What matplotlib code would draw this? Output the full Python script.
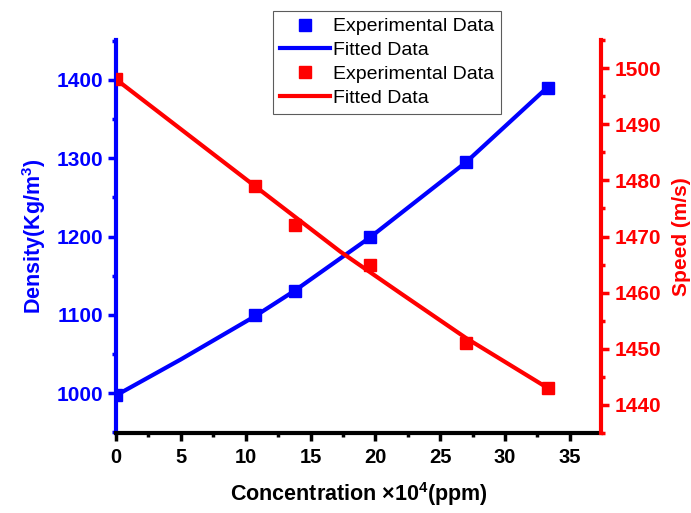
import matplotlib
matplotlib.use("Agg")
import matplotlib.pyplot as plt
from matplotlib.ticker import MultipleLocator
from matplotlib.lines import Line2D

plt.rcParams['font.family'] = ['Liberation Sans', 'DejaVu Sans']
plt.rcParams['mathtext.fontset'] = 'custom'
plt.rcParams['mathtext.rm'] = 'Liberation Sans:bold'
plt.rcParams['mathtext.bf'] = 'Liberation Sans:bold'

# Data
conc = [0, 10.7, 13.8, 19.6, 27.0, 33.3]
density_exp = [997, 1100, 1131, 1200, 1295, 1390]
density_fit_x = [0, 5, 10.7, 13.8, 19.6, 27.0, 33.3]
density_fit = [997, 1043, 1098, 1131, 1199, 1295, 1391]
speed_exp = [1498, 1479, 1472, 1465, 1451, 1443]
speed_fit_x = [0, 10.7, 17.3, 22.0, 27.0, 33.3]
speed_fit = [1498, 1479, 1467.3, 1459.8, 1451.9, 1443]

xticks = [0, 5, 10, 15, 20, 25, 30, 35]
dens_ticks = [1000, 1100, 1200, 1300, 1400]
speed_ticks = [1440, 1450, 1460, 1470, 1480, 1490, 1500]

BLUE = '#0000ff'
RED = '#ff0000'

fig = plt.figure(figsize=(6.91, 5.13), dpi=100)
ax = fig.add_axes([116/691, 1-433/513, (601-116)/691, (433-40)/513])
ax2 = ax.twinx()

lw = 3.0
ms = 8
ax.plot(density_fit_x, density_fit, color=BLUE, lw=lw, zorder=2)
ax.plot(conc, density_exp, ls='none', marker='s', ms=ms, color=BLUE, zorder=3)
ax2.plot(speed_fit_x, speed_fit, color=RED, lw=lw, zorder=2)
ax2.plot(conc, speed_exp, ls='none', marker='s', ms=ms, color=RED, zorder=3)

ax.set_xlim(0, 37.4)
ax.set_ylim(949, 1451)
ax2.set_ylim(1435, 1505)

ax.set_xticks(xticks)
ax.xaxis.set_minor_locator(MultipleLocator(2.5))
ax.set_yticks(dens_ticks)
ax.yaxis.set_minor_locator(MultipleLocator(50))
ax2.set_yticks(speed_ticks)
ax2.yaxis.set_minor_locator(MultipleLocator(5))

for a in (ax, ax2):
    a.spines['top'].set_visible(False)
ax.spines['right'].set_visible(False)
ax.spines['bottom'].set_linewidth(3)
ax.spines['bottom'].set_color('black')
ax.spines['left'].set_linewidth(3)
ax.spines['left'].set_color(BLUE)
ax2.spines['right'].set_linewidth(3)
ax2.spines['right'].set_color(RED)
ax2.spines['left'].set_visible(False)
ax2.spines['bottom'].set_visible(False)

ax.tick_params(axis='x', which='major', direction='out', length=6, width=2.5, colors='black', labelsize=14.5, pad=5)
ax.tick_params(axis='x', which='minor', direction='out', length=3, width=2.5, colors='black')
ax.tick_params(axis='y', which='major', direction='out', length=6, width=2.5, colors=BLUE, labelsize=15)
ax.tick_params(axis='y', which='minor', direction='out', length=3, width=2.5, colors=BLUE)
ax2.tick_params(axis='y', which='major', direction='out', length=6, width=2.5, colors=RED, labelsize=15)
ax2.tick_params(axis='y', which='minor', direction='out', length=3, width=2.5, colors=RED)

for lab in ax.get_xticklabels() + ax.get_yticklabels() + ax2.get_yticklabels():
    lab.set_fontweight('bold')

ax.set_xlabel('Concentration ×10$^{\\mathbf{4}}$(ppm)', fontsize=15.5, fontweight='bold', labelpad=9)
ax.set_ylabel('Density(Kg/m$^{\\mathbf{3}}$)', fontsize=15.5, fontweight='bold', color=BLUE, labelpad=6)
ax2.set_ylabel('Speed (m/s)', fontsize=15, fontweight='bold', color=RED, labelpad=8)

handles = [
    Line2D([], [], ls='none', marker='s', ms=ms, color=BLUE),
    Line2D([], [], color=BLUE, lw=lw),
    Line2D([], [], ls='none', marker='s', ms=ms, color=RED),
    Line2D([], [], color=RED, lw=lw),
]
labels = ['Experimental Data', 'Fitted Data', 'Experimental Data', 'Fitted Data']
leg = fig.legend(handles, labels, loc='upper left', bbox_to_anchor=(273/691, 1-11/513),
                 fontsize=14, frameon=True, fancybox=False, handlelength=2.6,
                 handletextpad=0.15, labelspacing=0.32, borderpad=0.35, borderaxespad=0)
leg.get_frame().set_edgecolor('#333333')
leg.get_frame().set_linewidth(0.8)

fig.savefig('out.png', dpi=100)
